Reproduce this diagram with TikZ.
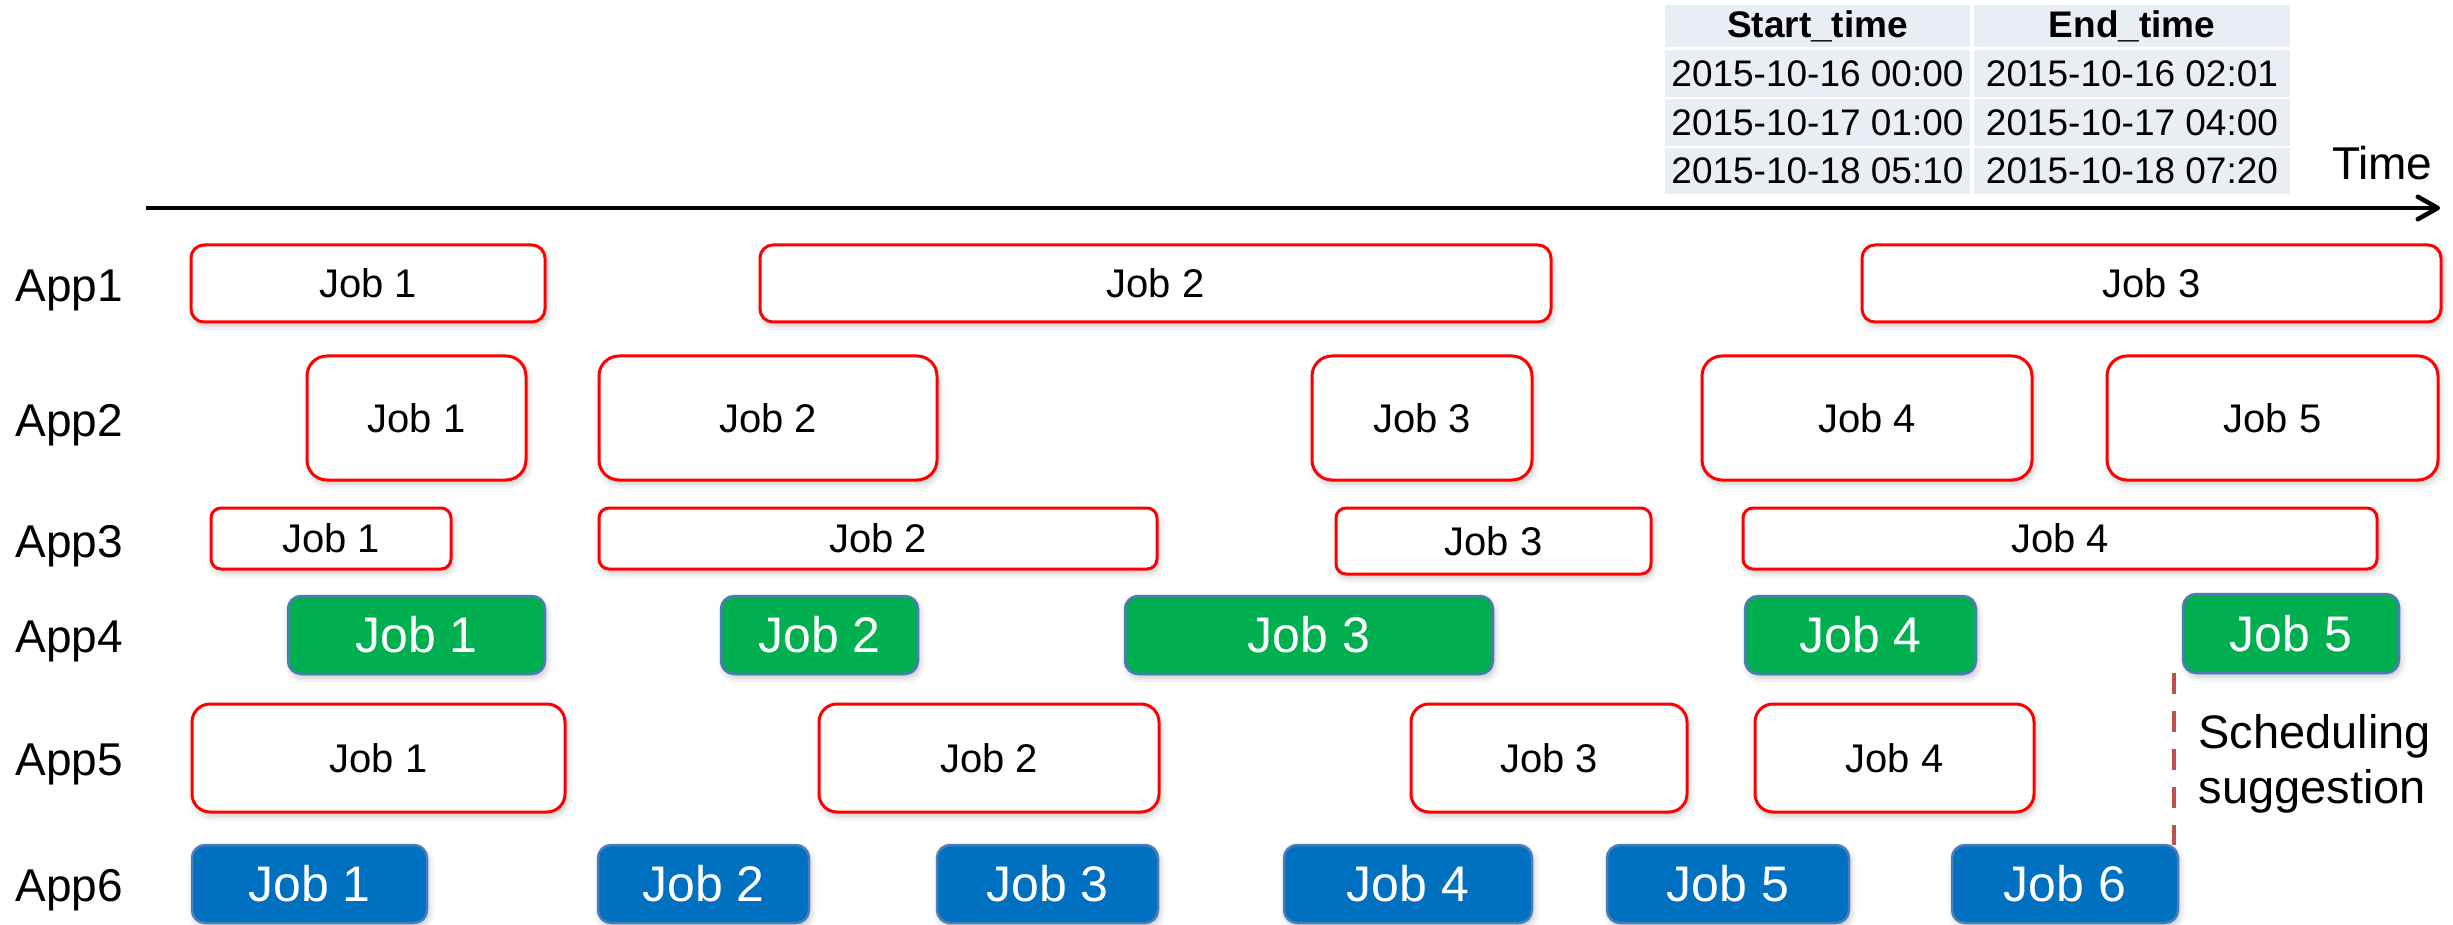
\documentclass[tikz,border=0pt]{standalone}
\usepackage{fontspec}
\setmainfont{Liberation Sans}
\usetikzlibrary{arrows.meta,shadows.blur}

\definecolor{jobred}{HTML}{FF0000}
\definecolor{jobgreen}{HTML}{00B050}
\definecolor{jobblue}{HTML}{0070C0}
\definecolor{greenedge}{HTML}{5079BC}
\definecolor{blueedge}{HTML}{4A7EBB}
\definecolor{cellbg}{HTML}{E9EDF4}
\definecolor{dashred}{HTML}{C0504D}

% box between two corners (x1,y1) and (x2,y2), in picture units of 0.4pt
\newcommand\cornerbox[7]{%
  \node[#1, minimum width={(#5-#3)*0.4pt}, minimum height={(#6-#4)*0.4pt}]
    (#2) at ({(#3+#5)/2},{(#4+#6)/2}) {#7};}

\begin{document}
\begin{tikzpicture}[
  x=0.4pt, y=-0.4pt,
  box/.style={inner sep=0pt, outer sep=0pt,
    blur shadow={shadow xshift=0.8pt, shadow yshift=-1.6pt,
                 shadow blur radius=2.4pt, shadow opacity=22}},
  redjob/.style={box, draw=jobred, line width=1.2pt, fill=white,
    font=\fontsize{16}{16}\selectfont},
  greenjob/.style={box, draw=greenedge, line width=1pt, fill=jobgreen, text=white,
    rounded corners=5.2pt, font=\fontsize{20}{20}\selectfont},
  bluejob/.style={box, draw=blueedge, line width=1pt, fill=jobblue, text=white,
    rounded corners=5.2pt, font=\fontsize{20}{20}\selectfont},
  rA/.style={redjob, rounded corners=5.2pt},
  rB/.style={redjob, rounded corners=8pt},
  rC/.style={redjob, rounded corners=4pt},
  rE/.style={redjob, rounded corners=7.2pt},
  applabel/.style={anchor=base west, inner sep=0pt, font=\fontsize{18.4}{18.4}\selectfont},
  cell/.style={fill=cellbg, inner sep=0pt, outer sep=0pt,
    font=\fontsize{14.8}{14.8}\selectfont},
  headcell/.style={cell, font=\fontsize{14.8}{14.8}\selectfont\bfseries},
  timearrow/.style={line width=1.8pt, -{Straight Barb[length=8pt, width=9pt, line cap=round, line join=round]}},
  suggline/.style={draw=dashred, line width=1.6pt, dash pattern=on 8.4pt off 6.8pt},
  note/.style={anchor=base west, inner sep=0pt, font=\fontsize{18.8}{18.8}\selectfont}
]
\useasboundingbox (0,0) rectangle (2453,925);

% table of start and end times
\cornerbox{headcell}{hs}{1665}{5}{1970}{47}{Start\_time}
\cornerbox{headcell}{he}{1974}{5}{2290}{47}{End\_time}
\cornerbox{cell}{s1}{1665}{50}{1970}{97}{2015-10-16 00:00}
\cornerbox{cell}{e1}{1974}{50}{2290}{97}{2015-10-16 02:01}
\cornerbox{cell}{s2}{1665}{99}{1970}{146}{2015-10-17 01:00}
\cornerbox{cell}{e2}{1974}{99}{2290}{146}{2015-10-17 04:00}
\cornerbox{cell}{s3}{1665}{148}{1970}{194}{2015-10-18 05:10}
\cornerbox{cell}{e3}{1974}{148}{2290}{194}{2015-10-18 07:20}

% time axis
\coordinate (axisL) at (146,208);
\coordinate (axisR) at (2440,208);
\draw[timearrow] (axisL) -- (axisR);
\node[anchor=base east, inner sep=0pt, font=\fontsize{18.4}{18.4}\selectfont] (time) at (2433,180) {Time};

% application labels
\node[applabel] (app1) at (15,302) {App1};
\node[applabel] (app2) at (15,436) {App2};
\node[applabel] (app3) at (15,557) {App3};
\node[applabel] (app4) at (15,652) {App4};
\node[applabel] (app5) at (15,775) {App5};
\node[applabel] (app6) at (15,901) {App6};

% App1
\cornerbox{rA}{a1j1}{191}{245}{545}{322}{Job 1}
\cornerbox{rA}{a1j2}{760}{245}{1551}{322}{Job 2}
\cornerbox{rA}{a1j3}{1862}{245}{2441}{322}{Job 3}

% App2
\cornerbox{rB}{a2j1}{307}{356}{526}{480}{Job 1}
\cornerbox{rB}{a2j2}{599}{356}{937}{480}{Job 2}
\cornerbox{rB}{a2j3}{1312}{356}{1532}{480}{Job 3}
\cornerbox{rB}{a2j4}{1702}{356}{2032}{480}{Job 4}
\cornerbox{rB}{a2j5}{2107}{356}{2438}{480}{Job 5}

% App3
\cornerbox{rC}{a3j1}{211}{508}{451}{569}{Job 1}
\cornerbox{rC}{a3j2}{599}{508}{1157}{569}{Job 2}
\cornerbox{rC}{a3j3}{1336}{508}{1651}{574}{Job 3}
\cornerbox{rC}{a3j4}{1743}{508}{2377}{569}{Job 4}

% App4
\cornerbox{greenjob}{a4j1}{288}{596}{545}{674}{Job 1}
\cornerbox{greenjob}{a4j2}{721}{596}{918}{674}{Job 2}
\cornerbox{greenjob}{a4j3}{1125}{596}{1493}{674}{Job 3}
\cornerbox{greenjob}{a4j4}{1745}{596}{1976}{674}{Job 4}
\cornerbox{greenjob}{a4j5}{2183}{594}{2399}{673}{Job 5}

% App5
\cornerbox{rE}{a5j1}{192}{704}{565}{812}{Job 1}
\cornerbox{rE}{a5j2}{819}{704}{1159}{812}{Job 2}
\cornerbox{rE}{a5j3}{1411}{704}{1687}{812}{Job 3}
\cornerbox{rE}{a5j4}{1755}{704}{2034}{812}{Job 4}

% App6
\cornerbox{bluejob}{a6j1}{192}{845}{427}{923}{Job 1}
\cornerbox{bluejob}{a6j2}{598}{845}{809}{923}{Job 2}
\cornerbox{bluejob}{a6j3}{937}{845}{1158}{923}{Job 3}
\cornerbox{bluejob}{a6j4}{1284}{845}{1532}{923}{Job 4}
\cornerbox{bluejob}{a6j5}{1607}{845}{1849}{923}{Job 5}
\cornerbox{bluejob}{a6j6}{1952}{845}{2178}{923}{Job 6}

% scheduling suggestion marker
\coordinate (sugTop) at (2174,673);
\coordinate (sugBot) at (2174,845);
\draw[suggline] (sugTop) -- (sugBot);
\node[note] (sug1) at (2198,748) {Scheduling};
\node[note] (sug2) at (2198,803) {suggestion};
\end{tikzpicture}
\end{document}
